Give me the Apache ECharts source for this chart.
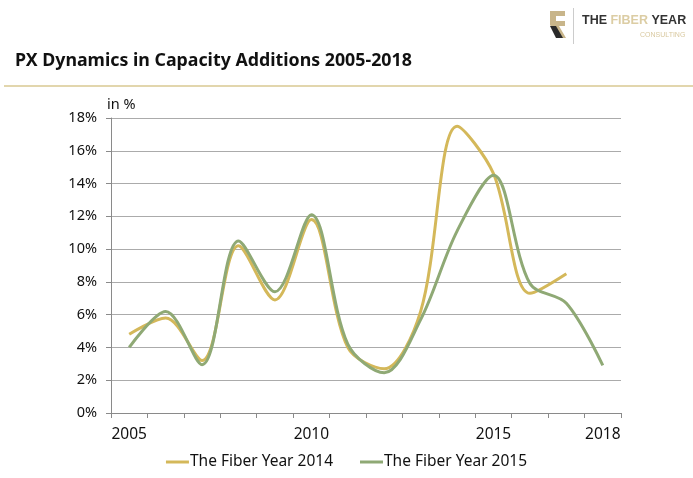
<!DOCTYPE html>
<html>
<head>
<meta charset="utf-8">
<script src="https://cdn.jsdelivr.net/npm/echarts@6/dist/echarts.min.js"></script>
<style>
html,body{margin:0;padding:0;background:#fff;}
#chart{width:693px;height:478px;}
</style>
</head>
<body>
<div id="chart"></div>
<script>
var years = ['2005','2006','2007','2008','2009','2010','2011','2012','2013','2014','2015','2016','2017','2018'];
var fiberYear2014 = [4.8, 5.8, 3.2, 10.2, 6.9, 11.8, 4.0, 2.7, 6.2, 17.5, 14.6, 7.3, 8.5, null];
var fiberYear2015 = [4.0, 6.2, 2.95, 10.5, 7.4, 12.1, 4.2, 2.45, 5.7, 11.1, 14.5, 7.9, 6.7, 2.9];
var shownYearLabels = ['2005','2010','2015','2018'];
var yTicks = [0, 2, 4, 6, 8, 10, 12, 14, 16, 18];

var FONT = '"Noto Sans", "Open Sans", sans-serif';
var LOGO_FONT = '"Liberation Sans", Arial, sans-serif';
var GOLD = '#d4b85a';
var GREEN = '#8fa975';

var chart = echarts.init(document.getElementById('chart'), null, {renderer:'canvas'});
chart.setOption({
  animation: false,
  backgroundColor: '#ffffff',
  textStyle: {fontFamily: FONT},
  title: {
    text: 'PX Dynamics in Capacity Additions 2005-2018',
    left: 10, top: 47,
    textStyle: {fontFamily: FONT, fontSize: 17.8, fontWeight: 'bold', color: '#111'}
  },
  graphic: [
    {type:'rect', shape:{x:4, y:85, width:689, height:2}, style:{fill:'#e2d6ad'}},
    {type:'polygon', shape:{points:[[550,11],[565,11],[565,16],[556,16],[556,21],[565,21],[565,26],[559,26],[566,38],[559,38],[550,25]]}, style:{fill:'#c8b58a'}},
    {type:'polygon', shape:{points:[[550,26],[556,26],[563,38],[556,38]]}, style:{fill:'#2a2a2a'}},
    {type:'rect', shape:{x:573, y:8, width:1, height:36}, style:{fill:'#cccccc'}},
    {type:'text', x: 582, y: 14, style:{
      text:'{a|THE }{b|FIBER }{a|YEAR}',
      rich:{
        a:{font:'bold 12.5px ' + LOGO_FONT, fill:'#333'},
        b:{font:'bold 12.5px ' + LOGO_FONT, fill:'#dccda4'}
      }
    }},
    {type:'text', x: 640, y: 32, style:{text:'CONSULTING', font:'7px ' + LOGO_FONT, fill:'#d9c9a0'}}
  ],
  legend: {
    bottom: 3, left: 'center',
    itemWidth: 23, itemHeight: 3, itemGap: 27,
    icon: 'rect',
    textStyle: {fontFamily: FONT, fontSize: 15.5, color: '#111', padding:[0,0,0,-4]},
    data: ['The Fiber Year 2014', 'The Fiber Year 2015']
  },
  grid: {left: 111, right: 72, top: 118, bottom: 65, containLabel: false},
  xAxis: {
    type: 'category',
    data: years,
    boundaryGap: true,
    axisLine: {lineStyle: {color: '#8a8a8a', width: 1}},
    axisTick: {show: true, interval: 0, length: 5, lineStyle: {color: '#8a8a8a'}},
    axisLabel: {
      interval: 0, margin: 14, fontSize: 15.5, color: '#111', fontFamily: FONT,
      formatter: function (v) { return shownYearLabels.indexOf(v) >= 0 ? v : ''; }
    },
    splitLine: {show: false}
  },
  yAxis: {
    type: 'value',
    min: yTicks[0], max: yTicks[yTicks.length - 1], interval: 2,
    name: 'in %', nameLocation: 'end', nameGap: 6,
    nameTextStyle: {fontFamily: FONT, fontSize: 14.5, color: '#111', align: 'left', padding: [0, 0, 0, -4]},
    axisLine: {show: true, lineStyle: {color: '#8a8a8a', width: 1}},
    axisTick: {show: true, length: 5, lineStyle: {color: '#8a8a8a'}},
    axisLabel: {fontSize: 14.5, color: '#111', margin: 14, fontFamily: FONT, formatter: '{value}%'},
    splitLine: {show: true, lineStyle: {color: '#ababab', width: 1}}
  },
  series: [
    {
      name: 'The Fiber Year 2014', type: 'line', data: fiberYear2014,
      smooth: 0.33, showSymbol: false, symbol: 'none',
      lineStyle: {color: GOLD, width: 3}, itemStyle: {color: GOLD}, z: 3
    },
    {
      name: 'The Fiber Year 2015', type: 'line', data: fiberYear2015,
      smooth: 0.33, showSymbol: false, symbol: 'none',
      lineStyle: {color: GREEN, width: 3}, itemStyle: {color: GREEN}, z: 4
    }
  ]
});
</script>
</body>
</html>
